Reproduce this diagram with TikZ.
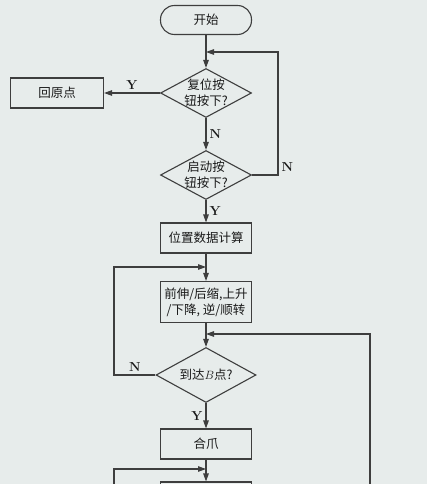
\documentclass[tikz,border=0pt]{standalone}
\usepackage{fontspec}
\newfontfamily\cjk{Noto Sans CJK SC}
\usetikzlibrary{shapes.geometric,arrows.meta}
\definecolor{paper}{RGB}{231,236,235}
\definecolor{ink}{RGB}{62,62,62}

\begin{document}
\begin{tikzpicture}[x=1pt,y=-1pt,>={Triangle[length=8pt,width=5.5pt]},
  every node/.style={font=\cjk\fontsize{12.5}{16}\selectfont,text=black!90},
  flow/.style={draw=ink,line width=1.1pt},
  proc/.style={flow,minimum width=91pt,minimum height=30pt,align=center,inner sep=2pt},
  term/.style={proc,rounded corners=14pt,minimum height=29pt},
  cond/.style={flow,diamond,aspect=1.86,inner sep=-2pt,minimum width=91pt,minimum height=49pt,align=center},
  yn/.style={font=\rmfamily\bfseries\fontsize{13}{13}\selectfont,inner sep=3pt}]
  \useasboundingbox (0,0) rectangle (427,484);
  \clip (0,0) rectangle (427,484);
  \fill[paper] (0,0) rectangle (427,484);

  \node[term] (start) at (206,20) {开始};
  \node[cond] (reset) at (206,93) {复位按\\钮按下?};
  \node[proc,minimum width=93pt] (home) at (57,93) {回原点};
  \node[cond] (go) at (206,175) {启动按\\钮按下?};
  \node[proc] (calc) at (206,238) {位置数据计算};
  \node[proc,minimum height=41pt] (move) at (206,302) {前伸/后缩,上升\\/下降, 逆/顺转};
  \node[cond,minimum width=100pt,minimum height=55pt] (reach) at (206,375) {到达$B$点?};
  \node[proc] (grip) at (206,444) {合爪};
  \node[proc] (next) at (206,497) {};

  \coordinate (m1) at (206,52);
  \coordinate (r1) at (278,52);
  \coordinate (m2) at (206,267);
  \coordinate (l2) at (114,267);
  \coordinate (m3) at (206,334);
  \coordinate (r3) at (370,334);
  \coordinate (r3b) at (370,490);
  \coordinate (m4) at (206,469);
  \coordinate (l4) at (114,469);
  \coordinate (l4b) at (114,490);

  \draw[flow,->] (start) -- (reset);
  \draw[flow,->] (reset.west) -- node[yn,above]{Y} (home.east);
  \draw[flow,->] (reset) -- node[yn,right]{N} (go);
  \draw[flow,->] (go.east) -| node[yn,above right,pos=0.5]{N} (r1) -- (m1);
  \draw[flow,->] (go) -- node[yn,right]{Y} (calc);
  \draw[flow,->] (calc) -- (move);
  \draw[flow,->] (move) -- (reach);
  \draw[flow,->] (reach.west) -| node[yn,above,pos=0.25]{N} (l2) -- (m2);
  \draw[flow,->] (r3b) -- (r3) -- (m3);
  \draw[flow,->] (reach) -- node[yn,left]{Y} (grip);
  \draw[flow,->] (grip) -- (next);
  \draw[flow,->] (l4b) -- (l4) -- (m4);
\end{tikzpicture}
\end{document}
